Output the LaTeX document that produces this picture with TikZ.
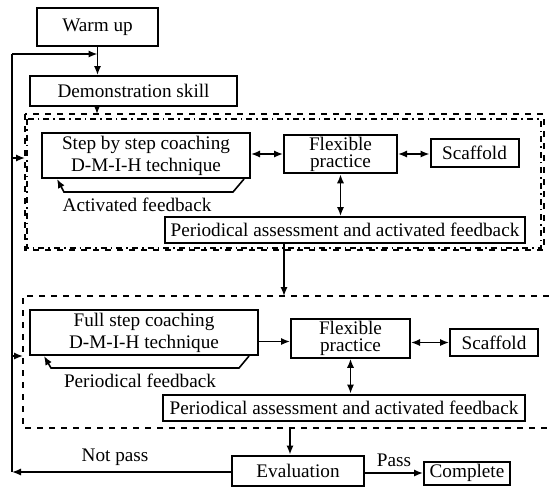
\documentclass[tikz,border=0pt]{standalone}
\usepackage{fontspec}
\setmainfont{Liberation Serif}
\usetikzlibrary{positioning}
\usetikzlibrary{arrows.meta}

\tikzset{
  stage/.style={draw, line width=1pt, inner sep=1pt, align=center,
    font=\fontsize{9.6}{11}\selectfont},
  flexbox/.style={font=\fontsize{9.6}{8.6}\selectfont},
  note/.style={inner sep=0pt, font=\fontsize{9.6}{11}\selectfont},
  link/.style={line width=0.8pt, -{Latex[length=4.5pt,width=3.6pt]}},
  twoway/.style={line width=0.8pt, {Latex[length=4.5pt,width=3.6pt]}-{Latex[length=4.5pt,width=3.6pt]}},
  frame/.style={line width=0.8pt, dashed},
}

\begin{document}
\begin{tikzpicture}[x=0.5pt, y=-0.5pt]
                \useasboundingbox (0,0) rectangle (549,489);
                % the two training stages
                \draw [frame] (25,114) rectangle (544,250);
                \draw [line width=0.8pt, dash dot] (27,119) rectangle (541,248);
                \draw [frame] (549,296) -- (23,296) -- (23,428) -- (549,428);
                % boxes
                \node [stage, minimum width=60.5pt, minimum height=19pt] (warm) at (97.5,27) {Warm up};
                \node [stage, minimum width=103.5pt, minimum height=15pt] (demo) at (133.5,91) {Demonstration skill};
                \node [stage, minimum width=104pt, minimum height=22.5pt] (coach1) at (146,155.5) {Step by step coaching\\D-M-I-H technique};
                \node [stage, flexbox, minimum width=56.5pt, minimum height=18.5pt] (flex1) at (340.5,154) {Flexible\\practice};
                \node [stage, minimum width=44pt, minimum height=14pt] (scaf1) at (474.5,152.5) {Scaffold};
                \node [stage, minimum width=180pt, minimum height=13pt] (assess1) at (345,230) {Periodical assessment and activated feedback};
                \node [stage, minimum width=114pt, minimum height=22.5pt] (coach2) at (144,332.5) {Full step coaching\\D-M-I-H technique};
                \node [stage, flexbox, minimum width=59.5pt, minimum height=18.5pt] (flex2) at (350.5,338.5) {Flexible\\practice};
                \node [stage, minimum width=44pt, minimum height=13.5pt] (scaf2) at (494,342.5) {Scaffold};
                \node [stage, minimum width=181pt, minimum height=13pt] (assess2) at (344,407.5) {Periodical assessment and activated feedback};
                \node [stage, minimum width=66pt, minimum height=15pt] (eval) at (298,470.5) {Evaluation};
                \node [stage, minimum width=43pt, minimum height=11.5pt] (complete) at (467,473) {Complete};
                \node [note] (fb1) at (137,205) {Activated feedback};
                \node [note] (fb2) at (140,381) {Periodical feedback};
                \node [note] (fail) at (115,457) {Not pass};
                % return path
                \coordinate (back) at (12,472);
                \coordinate (backtop) at (12,54);
                \coordinate (in1) at (25,158);
                \coordinate (in2) at (23,356);
                \coordinate (top1) at (97,114);
                \coordinate (top2) at (284,296);
                \coordinate (bot2) at (290,428);
                \draw [link] (eval.west |- back) -- (back);
                \draw [line width=0.8pt] (back) -- (backtop);
                \draw [link] (backtop) -- (backtop -| warm.south);
                \draw [link] (in1 -| backtop) -- (in1);
                \draw [link] (in2 -| backtop) -- (in2);
                % main flow
                \draw [link] (warm.south) -- (warm.south |- demo.north);
                \draw [link] (demo.south -| top1) -- (top1);
                \draw [twoway] (coach1.east |- flex1) -- (flex1.west);
                \draw [twoway] (flex1.east) -- (scaf1.west |- flex1);
                \draw [twoway] (flex1.south) -- (flex1.south |- assess1.north);
                \draw [link] ([xshift=-3.5pt]coach1.south east) -- ++(-11,13) -- ++(-169,0) -- ([xshift=8pt]coach1.south west);
                \draw [link] (assess1.south -| top2) -- (top2);
                \draw [link] ([yshift=-4.5pt]coach2.east) -- ([yshift=-4.5pt]coach2.east -| flex2.west);
                \draw [twoway] (flex2.east |- scaf2) -- (scaf2.west);
                \draw [twoway] (flex2.south) -- (flex2.south |- assess2.north);
                \draw [link] ([xshift=-5pt]coach2.south east) -- ++(-10,12) -- ++(-188,0) -- ([xshift=7.5pt]coach2.south west);
                \draw [link] (bot2) -- (bot2 |- eval.north);
                \draw [link] (eval.east |- complete) -- (complete.west) node [note, midway, above=3pt] (pass) {Pass};
              \end{tikzpicture}
\end{document}
